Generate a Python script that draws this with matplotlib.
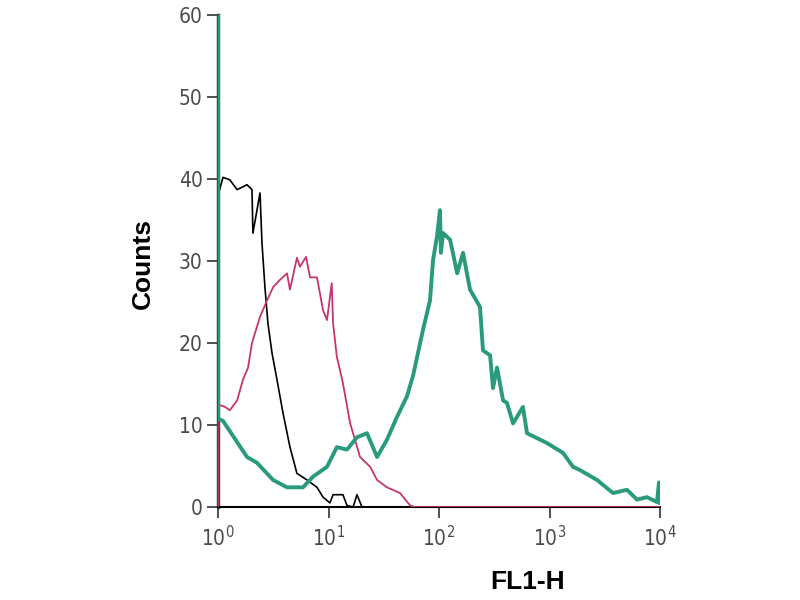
import numpy as np
import matplotlib
matplotlib.use("Agg")
import matplotlib.pyplot as plt

# FL1-H channel values and counts
teal_x = [1.0, 1.0, 1.11, 1.83, 2.25, 3.15, 4.21, 5.88, 7.24, 9.69, 11.9, 14.7, 18.1, 22.3, 27.5,
          33.8, 41.7, 51.3, 58.2, 71.6, 82.9, 88.3, 95.9, 102, 104, 109, 126, 146, 165, 191,
          235, 250, 290, 308, 335, 380, 412, 468, 575, 626, 949, 1325, 1632, 1888, 2691,
          3758, 5026, 6194, 7627, 9390, 9795, 10000]
teal_y = [60, 10.8, 10.5, 6.1, 5.4, 3.3, 2.4, 2.4, 3.7, 4.9, 7.3, 7.0, 8.5, 9.0, 6.1,
          8.2, 11, 13.5, 16, 21.6, 25.2, 30.1, 33, 36.2, 31, 33.4, 32.6, 28.5, 31, 26.5,
          24.4, 19.1, 18.5, 14.5, 17, 13, 12.7, 10.2, 12.2, 9.0, 7.8, 6.6, 4.9, 4.5, 3.3,
          1.7, 2.1, 0.9, 1.2, 0.6, 3, 0.5]

black_x = [1.0, 1.0, 1.11, 1.28, 1.49, 1.83, 2.03, 2.07, 2.40, 2.50, 2.66, 2.83, 3.08, 3.42,
           3.87, 4.48, 5.18, 6.39, 7.87, 8.92, 10.3, 11.0, 13.5, 14.7, 16.7, 18.1, 20.1, 10000]
black_y = [0, 38, 40.2, 39.9, 38.7, 39.3, 38.7, 33.4, 38.3, 32.2, 26.8, 22.4, 18.8, 15.5,
           11.5, 7.3, 4.1, 3.3, 2.4, 1.2, 0.5, 1.5, 1.5, 0.2, 0, 1.5, 0, 0]

pink_x = [1.0, 1.0, 1.16, 1.28, 1.49, 1.68, 1.87, 2.03, 2.40, 2.78, 3.15, 3.64, 4.21, 4.48,
          5.18, 5.52, 6.26, 6.81, 7.87, 8.92, 9.69, 10.7, 11.0, 11.9, 12.7, 13.5, 15.7, 19.3,
          23.8, 27.5, 33.8, 44.4, 54.7, 60, 10000]
pink_y = [0, 12.5, 12.2, 11.8, 13, 15.5, 17, 20, 23.2, 25.2, 26.8, 27.7, 28.5, 26.5,
          30.4, 29.3, 30.5, 28.0, 28.0, 24, 22.8, 27.3, 22.4, 18.3, 16.7, 15.1, 10.2, 6.1,
          4.9, 3.3, 2.4, 1.7, 0.2, 0, 0]

yticks = [0, 10, 20, 30, 40, 50, 60]
xticks = [1, 10, 100, 1000, 10000]
xlabels = ["10$^{0}$", "10$^{1}$", "10$^{2}$", "10$^{3}$", "10$^{4}$"]

plt.rcParams["font.family"] = ["DejaVu Sans"]
plt.rcParams["font.stretch"] = "condensed"
plt.rcParams["mathtext.fontset"] = "custom"
plt.rcParams["mathtext.rm"] = "DejaVu Sans:stretch=condensed"

fig = plt.figure(figsize=(8, 6), dpi=100)
ax = fig.add_axes([0.2725, 0.155, 0.5525, 0.82])

ax.plot(black_x, black_y, color="black", lw=1.2, zorder=3)
ax.plot(pink_x, pink_y, color="#c4356f", lw=1.3, zorder=3)
ax.plot(teal_x, teal_y, color="#2a9a7c", lw=2.8, zorder=4)

ax.set_xscale("log")
ax.set_xlim(1, 10000)
ax.set_ylim(0, 60)
ax.set_xticks(xticks)
ax.set_xticklabels(xlabels)
ax.minorticks_off()
ax.set_yticks(yticks)

for s in ["top", "right"]:
    ax.spines[s].set_visible(False)
ax.spines["left"].set_color("#1d5c4c")
ax.spines["left"].set_linewidth(2.5)
ax.spines["bottom"].set_linewidth(1.5)

ax.tick_params(axis="both", direction="out", length=8, width=1.2, color="#333333",
               labelcolor="#4a4a4a", labelsize=15)
ax.tick_params(axis="y", pad=3)
ax.tick_params(axis="x", pad=5)

fig.text(0.66, 0.03, "FL1-H", fontsize=19, fontweight="bold", family="Liberation Sans",
         stretch="normal", ha="center", va="center")
fig.text(0.179, 0.56, "Counts", fontsize=19, fontweight="bold", family="Liberation Sans",
         stretch="normal", rotation=90, ha="center", va="center")

fig.savefig("out.png", dpi=100)
